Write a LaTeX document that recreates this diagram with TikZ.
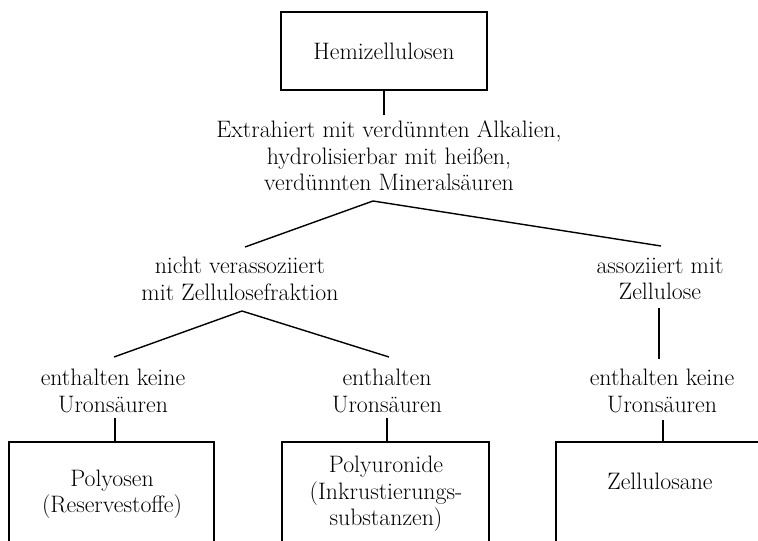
\documentclass[tikz,border=0pt]{standalone}
\usepackage{fontspec}
\begin{document}
\begin{tikzpicture}[x=1pt,y=-1pt,
  every node/.style={font=\fontsize{23.8}{26.5}\selectfont, align=center, inner sep=0pt},
  conn/.style={line width=1.4pt},
  boxline/.style={line width=1.4pt}]
\useasboundingbox (0,0) rectangle (758,541);
% top box
\node[draw, line width=1.4pt, minimum width=206pt, minimum height=78pt] (hemi) at (384,51) {Hemizellulosen};
\node (extr) at (389,156) {Extrahiert mit verdünnten Alkalien,\\hydrolisierbar mit heißen,\\verdünnten Mineralsäuren};
\node (nicht) at (240,279) {nicht verassoziiert\\mit Zellulosefraktion};
\node (asso) at (660,279) {assoziiert mit\\Zellulose};
\node (k1) at (113,391) {enthalten keine\\Uronsäuren};
\node (k2) at (387,391) {enthalten\\Uronsäuren};
\node (k3) at (662,391) {enthalten keine\\Uronsäuren};
\node (poly) at (112,494) {Polyosen\\(Reservestoffe)};
\node (uron) at (386,494) {Polyuronide\\(Inkrustierungs-\\substanzen)};
\node (zell) at (660,481) {Zellulosane};
% coordinates
\coordinate (t1) at (384,115);
\coordinate (ap1) at (373,201);
\coordinate (l1) at (245,247);
\coordinate (r1) at (661,246);
\coordinate (ap2) at (242,311);
\coordinate (l2) at (114,357);
\coordinate (r2) at (389,357);
\coordinate (v1) at (659,308);
\coordinate (v2) at (659,359);
\coordinate (b1t) at (115,418);
\coordinate (b1) at (115,442);
\coordinate (b2t) at (387,418);
\coordinate (b2) at (387,442);
\coordinate (b3t) at (663,420);
\coordinate (b3) at (663,442);
% connectors
\draw[conn] (hemi.south) -- (t1);
\draw[conn] (l1) -- (ap1) -- (r1);
\draw[conn] (l2) -- (ap2) -- (r2);
\draw[conn] (v1) -- (v2);
\draw[conn] (b1t) -- (b1);
\draw[conn] (b2t) -- (b2);
\draw[conn] (b3t) -- (b3);
% bottom open boxes
\draw[boxline] (9,545) -- (9,442) -- (214,442) -- (214,545);
\draw[boxline] (282,545) -- (282,442) -- (489,442) -- (489,545);
\draw[boxline] (556,545) -- (556,442) -- (762,442);
\end{tikzpicture}
\end{document}
